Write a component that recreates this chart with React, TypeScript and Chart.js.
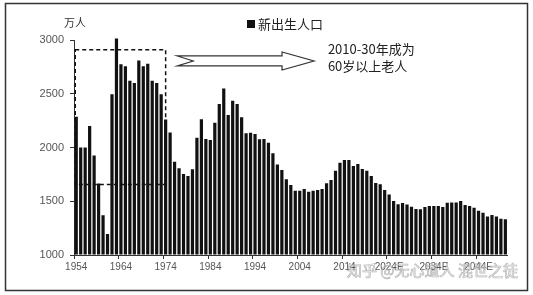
import React, { useEffect, useRef } from 'react';
import { Chart, registerables } from 'chart.js';

Chart.register(...registerables);

// Categories: birth years 1954 .. 2050 (later years are estimates)
const years: number[] = Array.from({ length: 97 }, (_, i) => 1954 + i);

// Axis tick labels shown every ten years
const tickLabels: string[] = ['1954', '1964', '1974', '1984', '1994', '2004', '2014', '2024E', '2034E', '2044E'];
const yTicks: number[] = [1000, 1500, 2000, 2500, 3000];

// 新出生人口 (万人)
const births: number[] = [
  2285, 2000, 2000, 2200, 1925, 1665, 1370, 1195, 2495, 3015,
  2775, 2755, 2620, 2600, 2810, 2755, 2780, 2620, 2600, 2495,
  2260, 2140, 1868, 1806, 1753, 1735, 1797, 2091, 2262, 2079,
  2070, 2231, 2405, 2550, 2302, 2435, 2405, 2281, 2132, 2138,
  2126, 2076, 2079, 2045, 1946, 1843, 1791, 1704, 1651, 1598,
  1598, 1614, 1589, 1598, 1605, 1614, 1667, 1698, 1784, 1859,
  1884, 1884, 1828, 1847, 1800, 1784, 1735, 1670, 1658, 1605,
  1562, 1503, 1472, 1483, 1470, 1450, 1427, 1425, 1447, 1456,
  1456, 1456, 1447, 1487, 1489, 1489, 1502, 1465, 1456, 1440,
  1412, 1394, 1357, 1372, 1357, 1338, 1332,
];

// Annotation (dashed box around the boom cohort, arrow, note)
const boxYears: number[] = [1954, 1974];
const boxValues: number[] = [1656, 2910];
const arrowYears: number[] = [1976.6, 2007.2];
const arrowValue = 2805;
const noteLines: string[] = ['2010-30年成为', '60岁以上老人'];
const noteYear = 2010.3;
const noteValues: number[] = [2915, 2760];

const unitLabel = '万人';
const legendLabel = '新出生人口';
const watermark = '知乎 @无心道人 混世之徒';

const CJK = '"Noto Sans CJK SC", "Noto Sans", sans-serif';

const overlayPlugin = {
  id: 'overlay',
  afterDatasetsDraw(chart: any) {
    const { ctx } = chart;
    const xs = chart.scales.x;
    const ys = chart.scales.y;
    const px = (year: number) => xs.getPixelForValue(year - years[0]);
    ctx.save();

    // dashed box
    ctx.strokeStyle = '#111';
    ctx.lineWidth = 1.5;
    ctx.setLineDash([4, 3]);
    const bx0 = px(boxYears[0]) - 1;
    const bx1 = px(boxYears[1]);
    const by0 = ys.getPixelForValue(boxValues[1]);
    const by1 = ys.getPixelForValue(boxValues[0]);
    ctx.strokeRect(bx0, by0, bx1 - bx0, by1 - by0);
    ctx.setLineDash([]);

    // hollow arrow with notched tail
    const ax0 = px(arrowYears[0]);
    const ax1 = px(arrowYears[1]);
    const ay = ys.getPixelForValue(arrowValue);
    const axh = ax1 - 32;
    ctx.beginPath();
    ctx.moveTo(ax0, ay - 5);
    ctx.lineTo(axh, ay - 5);
    ctx.lineTo(axh, ay - 9);
    ctx.lineTo(ax1, ay);
    ctx.lineTo(axh, ay + 9);
    ctx.lineTo(axh, ay + 5);
    ctx.lineTo(ax0, ay + 5);
    ctx.lineTo(ax0 + 16, ay);
    ctx.closePath();
    ctx.fillStyle = '#fff';
    ctx.fill();
    ctx.strokeStyle = '#333';
    ctx.lineWidth = 1.2;
    ctx.stroke();

    // note text
    ctx.fillStyle = '#222';
    ctx.font = `13px ${CJK}`;
    ctx.textAlign = 'left';
    ctx.textBaseline = 'middle';
    noteLines.forEach((t, i) => {
      ctx.fillText(t, px(noteYear), ys.getPixelForValue(noteValues[i]));
    });

    // unit label
    ctx.font = `11px ${CJK}`;
    ctx.textAlign = 'center';
    ctx.fillStyle = '#333';
    ctx.fillText(unitLabel, 75, 23);

    // legend
    ctx.fillStyle = '#111';
    ctx.fillRect(247, 20, 8, 8);
    ctx.font = `13px ${CJK}`;
    ctx.textAlign = 'left';
    ctx.fillStyle = '#222';
    ctx.fillText(legendLabel, 258, 24);

    // frame
    ctx.strokeStyle = '#333';
    ctx.lineWidth = 1.5;
    ctx.strokeRect(5.5, 3.5, 522, 287);

    // watermark
    ctx.font = `15px ${CJK}`;
    ctx.textAlign = 'left';
    ctx.textBaseline = 'middle';
    ctx.fillStyle = 'rgba(255,255,255,0.6)';
    ctx.fillText(watermark, 347, 270);
    ctx.strokeStyle = 'rgba(120,120,120,0.55)';
    ctx.lineWidth = 0.7;
    ctx.strokeText(watermark, 347, 270);

    ctx.restore();
  },
};

export default function App() {
  const ref = useRef<HTMLCanvasElement | null>(null);
  useEffect(() => {
    if (!ref.current) return;
    const chart = new Chart(ref.current, {
      type: 'bar',
      data: {
        labels: years.map(String),
        datasets: [
          {
            label: legendLabel,
            data: births,
            backgroundColor: '#111',
            borderWidth: 0,
            barPercentage: 0.72,
            categoryPercentage: 1,
            base: yTicks[0],
            clip: { left: 0, right: 0, top: false, bottom: 0 } as any,
          },
        ],
      },
      options: {
        responsive: false,
        animation: false,
        layout: { padding: { left: 0, right: 25.4, top: 40, bottom: 0 } },
        plugins: { legend: { display: false }, tooltip: { enabled: false } },
        scales: {
          x: {
            type: 'category',
            offset: true,
            afterFit: (s: any) => { s.height = 40; },
            border: { display: true, color: '#333', width: 1 },
            grid: {
              offset: true,
              drawOnChartArea: false,
              drawTicks: true,
              tickLength: 4,
              color: (c: any) => (c.index % 10 === 0 ? '#333' : 'rgba(0,0,0,0)'),
            },
            ticks: {
              autoSkip: false,
              maxRotation: 0,
              minRotation: 0,
              padding: 2,
              color: '#555',
              font: { family: '"Liberation Sans", Arial, sans-serif', size: 10 },
              callback: (_v: any, i: number) => {
                const y = years[i];
                const t = tickLabels.find((l) => l.startsWith(String(y)));
                return t ?? '';
              },
            },
          },
          y: {
            min: yTicks[0],
            max: yTicks[yTicks.length - 1],
            afterFit: (s: any) => { s.width = 74; },
            afterBuildTicks: (s: any) => { s.ticks = yTicks.map((v) => ({ value: v })); },
            border: { display: true, color: '#333', width: 1 },
            grid: { drawOnChartArea: false, drawTicks: true, tickLength: 4, color: '#333' },
            ticks: {
              padding: 6,
              color: '#555',
              font: { family: '"Liberation Sans", Arial, sans-serif', size: 11 },
              callback: (v: any) => String(v),
            },
          },
        },
      },
      plugins: [overlayPlugin],
    } as any);
    return () => chart.destroy();
  }, []);
  return (
    <div style={{ position: 'fixed', left: 0, top: 0, width: 533, height: 295, background: '#fff' }}>
      <canvas ref={ref} width={533} height={295} style={{ display: 'block' }} />
    </div>
  );
}
